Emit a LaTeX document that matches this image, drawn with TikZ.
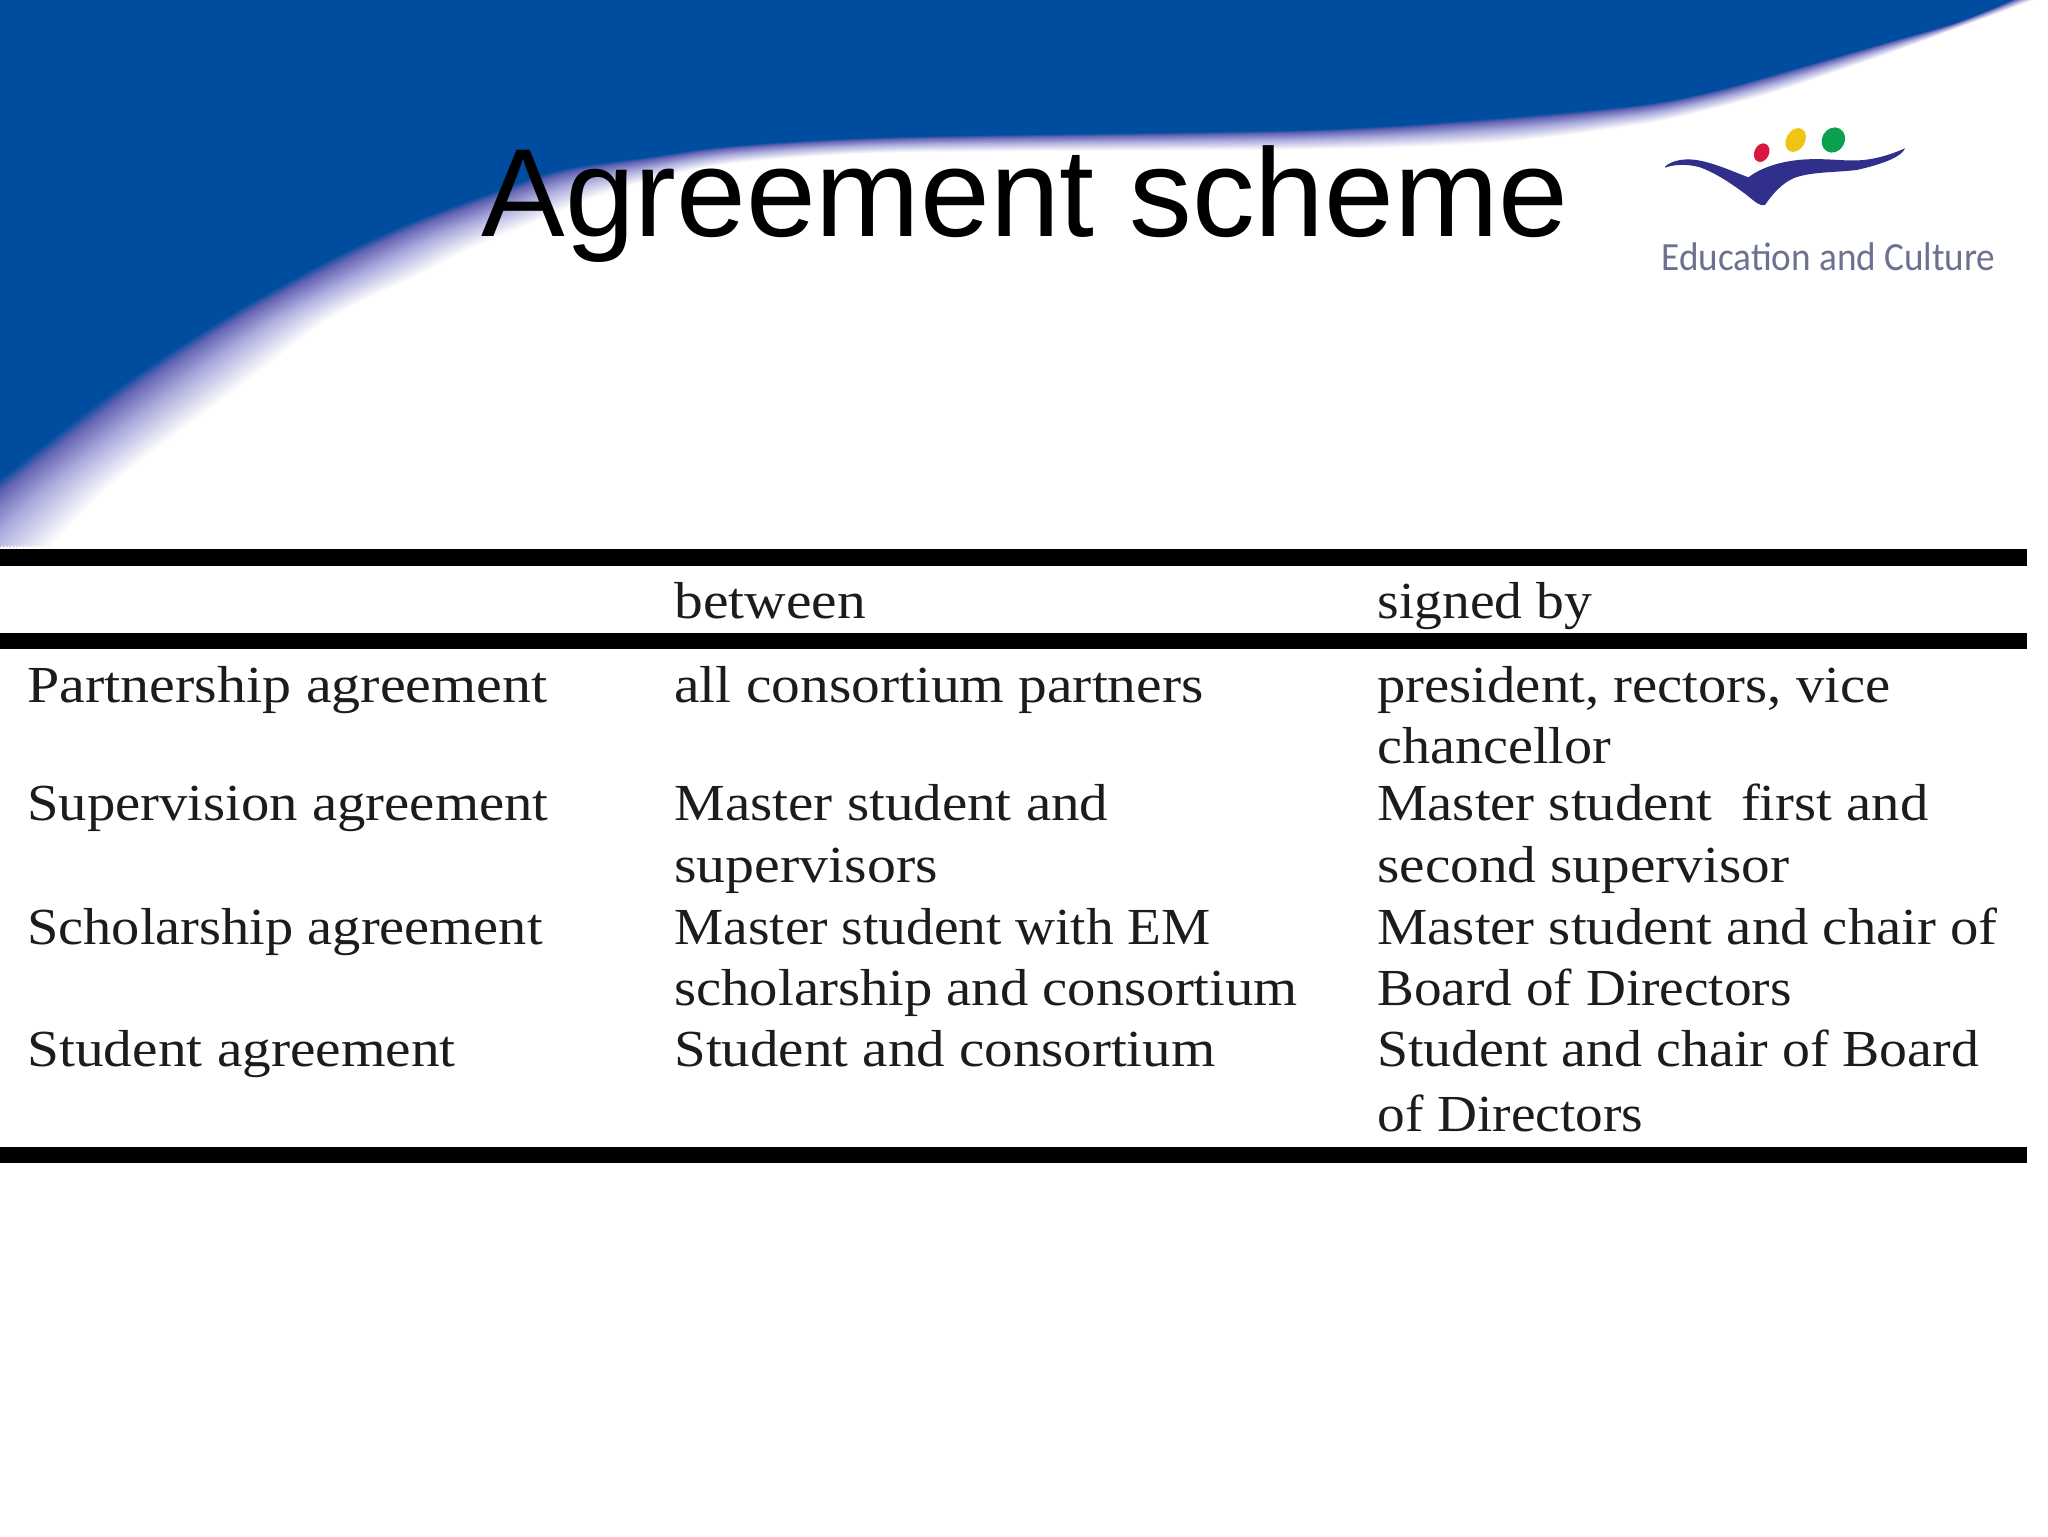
\documentclass[tikz,border=0pt]{standalone}
\usepackage{fontspec}
\setmainfont{Liberation Sans}
\newfontfamily\cellface[FakeStretch=1.09]{Liberation Serif}
\newfontfamily\logoface[FakeStretch=0.93]{Carlito}
\definecolor{swblue}{RGB}{0,76,158}
\definecolor{swpurple}{RGB}{100,100,180}
\definecolor{swlav}{RGB}{172,172,222}
\definecolor{celltext}{RGB}{28,28,28}
\definecolor{logotext}{RGB}{108,113,144}
\definecolor{logoblue}{RGB}{48,48,140}
\definecolor{logored}{RGB}{216,24,64}
\definecolor{logoyellow}{RGB}{240,196,20}
\definecolor{logogreen}{RGB}{10,160,80}
\tikzset{
  cell/.style={anchor=base west,inner sep=0pt,text=celltext,transform shape,font=\cellface\fontsize{26}{30}\selectfont},
  rulebar/.style={fill=black,draw=none},
}
\begin{document}
\begin{tikzpicture}[x=0.5pt,y=-0.5pt]
\useasboundingbox (0,0) rectangle (2048,1536);
\fill[white] (0,0) rectangle (2048,1536);
% swoosh with a soft edge
\foreach \i in {0,...,40}{
  \pgfmathsetmacro\mixt{\i/40}
  \pgfmathsetmacro\ma{min(100,100*\mixt/0.5)}
  \pgfmathsetmacro\mb{max(0,min(100,100*(\mixt-0.5)/0.35))}
  \pgfmathsetmacro\mc{max(0,100*(\mixt-0.85)/0.15)}
  \colorlet{swc}{swlav!\ma!white}
  \colorlet{swc}{swpurple!\mb!swc}
  \colorlet{swc}{swblue!\mc!swc}
  \gdef\pth{}
  \foreach \bx/\by/\wx/\wy in {-80/548/53/548,0/480/120/480,123/385/245/385,227/317/335/317,320/265/430/271,400/227/470/250,480/197/530/225,560/170/590/200,650/157/660/178,733/146/740/163,900/137/900/153,1306/130/1306/150,1500/118/1500/143,1640/105/1640/125,1710/92/1710/110,1780/73/1780/91,1885/43/1885/55,1955/23/1955/29,2017/-2/2038/-2,2040/-15/2060/-15}{
    \pgfmathsetmacro\xx{\wx+(\bx-\wx)*\mixt}
    \pgfmathsetmacro\yy{\wy+(\by-\wy)*\mixt}
    \xdef\pth{\pth (\xx,\yy)}
  }
  \edef\cmd{\noexpand\fill[swc] plot[smooth] coordinates {\pth} -- (-80,-15) -- cycle;}
  \cmd
}
% logo
\fill[white] (1648,128) rectangle (2010,300);
\begin{scope}[shift={(1600,90)},scale=1/3]
  \fill[logoblue] (195,230) .. controls (215,210) and (260,203) .. (300,212)
    .. controls (350,222) and (400,245) .. (445,262)
    .. controls (480,235) and (540,212) .. (620,208)
    .. controls (690,205) and (740,215) .. (790,210)
    .. controls (840,205) and (880,190) .. (915,175)
    .. controls (905,200) and (850,222) .. (770,240)
    .. controls (700,248) and (630,245) .. (580,265)
    .. controls (545,280) and (515,315) .. (495,345)
    .. controls (480,350) and (465,335) .. (440,315)
    .. controls (400,285) and (350,250) .. (300,232)
    .. controls (265,222) and (225,222) .. (195,233) -- cycle;
  \fill[logored,rotate around={-25:(485,188)}] (485,188) ellipse (22 and 29);
  \fill[logoyellow,rotate around={-30:(587,150)}] (587,150) ellipse (28 and 38);
  \fill[logogreen,rotate around={-30:(700,150)}] (700,150) ellipse (34 and 39);
\end{scope}
\node[anchor=base west,inner sep=0pt,text=logotext,font=\logoface\fontsize{20}{24}\selectfont] (logotxt) at (1661,270) {Education and Culture};
% title
\node[anchor=base west,inner sep=0pt,text=black,font=\fontsize{62.7}{70}\selectfont] (title) at (481,236) {Agreement scheme};
% rules
\fill[rulebar] (0,549) rectangle (2027,566);
\fill[rulebar] (0,633) rectangle (2027,649);
\fill[rulebar] (0,1147) rectangle (2027,1163);
% table text
\node[cell,xscale=1.014] (h2) at (674,618) {between};
\node[cell,xscale=0.98] (h3) at (1377,618) {signed by};
\node[cell,xscale=1.023] (a1) at (27,702) {Partnership agreement};
\node[cell,xscale=1.0125] (a2) at (674,702) {all consortium partners};
\node[cell] (a3) at (1377,702) {president, rectors, vice};
\node[cell,xscale=0.99] (a4) at (1377,763) {chancellor};
\node[cell] (b1) at (27,820) {Supervision agreement};
\node[cell,xscale=1.006] (b2) at (674,820) {Master student and};
\node[cell] (b3) at (1377,820) {Master student\ \ first and};
\node[cell,xscale=1.02] (b4) at (674,882) {supervisors};
\node[cell,xscale=1.01] (b5) at (1377,882) {second supervisor};
\node[cell,xscale=0.995] (c1) at (27,944) {Scholarship agreement};
\node[cell,xscale=0.976] (c2) at (674,944) {Master student with EM};
\node[cell] (c3) at (1377,944) {Master student and chair of};
\node[cell] (c4) at (674,1005) {scholarship and consortium};
\node[cell,xscale=0.975] (c5) at (1377,1005) {Board of Directors};
\node[cell,xscale=1.012] (d1) at (27,1066) {Student agreement};
\node[cell,xscale=1.005] (d2) at (674,1066) {Student and consortium};
\node[cell,xscale=0.985] (d3) at (1377,1066) {Student and chair of Board};
\node[cell,xscale=0.976] (d4) at (1377,1131) {of Directors};
\end{tikzpicture}
\end{document}
